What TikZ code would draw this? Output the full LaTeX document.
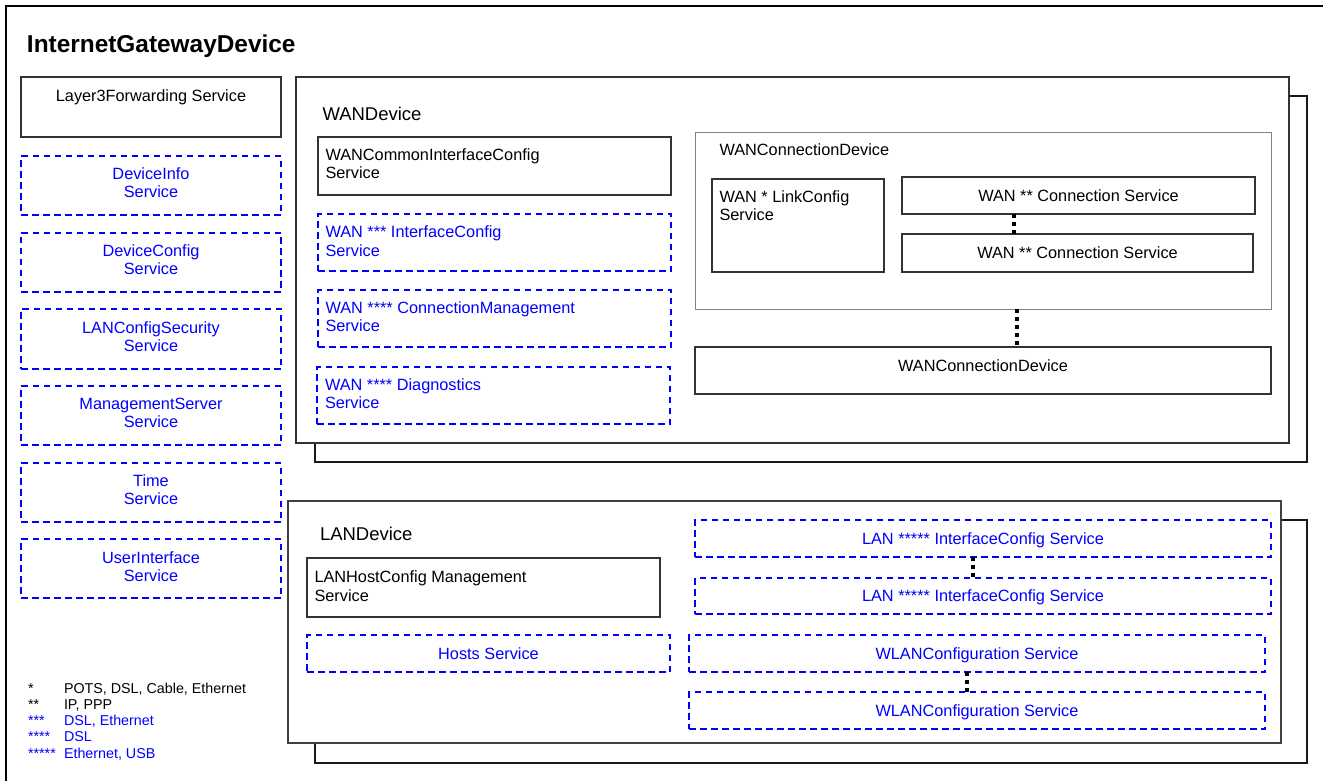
\documentclass[tikz,border=0pt]{standalone}
\usepackage{fontspec}
\setmainfont{Liberation Sans}

\begin{document}
\begin{tikzpicture}[x=1pt, y=-1pt,
    every node/.style={inner sep=0pt, outer sep=0pt},
    txt/.style={font=\fontsize{16.3}{18.3}\selectfont, text=black},
    bluetxt/.style={font=\fontsize{16.3}{18.3}\selectfont, text=blue},
    one/.style={text height=11.6pt, text depth=0pt},
    grouptxt/.style={font=\fontsize{18.5}{20}\selectfont, anchor=west, text height=13.2pt, text depth=0pt},
    legendtxt/.style={font=\fontsize{14.3}{16}\selectfont, anchor=base west},
    solidbox/.style={draw=black!80, line width=1.2pt, anchor=north west, font=\fontsize{16.3}{18.3}\selectfont},
    dashbox/.style={draw=blue, line width=2pt, dash pattern=on 6.5pt off 4.5pt, anchor=north west, text=blue, font=\fontsize{16.3}{18.3}\selectfont},
    backbox/.style={draw=black!90, line width=1.2pt},
    frontbox/.style={draw=black!80, line width=1.2pt, fill=white},
    dotline/.style={line width=4pt, dash pattern=on 4pt off 4pt}
  ]
    \useasboundingbox (0,0) rectangle (1323,780);

    % 外枠
    \draw[line width=2pt] (6,790) -- (6,6) -- (1330,6);
    \node[anchor=west, font=\fontsize{24.4}{28}\selectfont\bfseries, text height=17.5pt, text depth=0pt] (igd) at (27,44.2) {InternetGatewayDevice};

    % 左の列
    \node[solidbox, minimum width=260pt, minimum height=60pt] (l3fwd) at (21,77) {};
    \node[txt, one] (l3fwdtxt) at (151,95.5) {Layer3Forwarding Service};

    \node[dashbox, minimum width=260pt, minimum height=59pt] (devinfo) at (21,156) {};
    \node[bluetxt, align=center] (devinfotxt) at (151,183) {DeviceInfo\\Service};

    \node[dashbox, minimum width=260pt, minimum height=59pt] (devconfig) at (21,232.5) {};
    \node[bluetxt, align=center] (devconfigtxt) at (151,260) {DeviceConfig\\Service};

    \node[dashbox, minimum width=260pt, minimum height=60pt] (lancfgsec) at (21,309) {};
    \node[bluetxt, align=center] (lancfgsectxt) at (151,337) {LANConfigSecurity\\Service};

    \node[dashbox, minimum width=260pt, minimum height=59pt] (mgmtsrv) at (21,386) {};
    \node[bluetxt, align=center] (mgmtsrvtxt) at (151,413) {ManagementServer\\Service};

    \node[dashbox, minimum width=260pt, minimum height=59pt] (time) at (21,463) {};
    \node[bluetxt, align=center] (timetxt) at (151,489.5) {Time\\Service};

    \node[dashbox, minimum width=260pt, minimum height=59pt] (userif) at (21,539) {};
    \node[bluetxt, align=center] (useriftxt) at (151,566.4) {UserInterface\\Service};

    % WANDevice
    \draw[backbox] (315,96) rectangle (1307,462);
    \draw[frontbox] (296,77) rectangle (1289,443);
    \node[grouptxt] (wandevtxt) at (322.5,113.7) {WANDevice};

    \node[solidbox, minimum width=353pt, minimum height=58pt] (wancommon) at (318,137) {};
    \node[txt, anchor=west, align=left] (wancommontxt) at (325.5,163.8) {WANCommonInterfaceConfig\\Service};

    \node[dashbox, minimum width=353pt, minimum height=57pt] (wanif) at (318,214) {};
    \node[bluetxt, anchor=west, align=left] (waniftxt) at (325.5,241.2) {WAN *** InterfaceConfig\\Service};

    \node[dashbox, minimum width=353pt, minimum height=57pt] (wanconnmgmt) at (318,290) {};
    \node[bluetxt, anchor=west, align=left] (wanconnmgmttxt) at (325.5,317) {WAN **** ConnectionManagement\\Service};

    \node[dashbox, minimum width=353pt, minimum height=57pt] (wandiag) at (317,367) {};
    \node[bluetxt, anchor=west, align=left] (wandiagtxt) at (325,394) {WAN **** Diagnostics\\Service};

    % WANConnectionDevice
    \node[draw=black!50, line width=1pt, anchor=north west, minimum width=576pt, minimum height=177pt] (wcdgroup) at (695,132) {};
    \node[txt, one, anchor=west] (wcdgrouptxt) at (719.5,150) {WANConnectionDevice};

    \node[solidbox, minimum width=172pt, minimum height=93pt] (linkcfg) at (712,179) {};
    \node[txt, anchor=west, align=left] (linkcfgtxt) at (719.5,206) {WAN * LinkConfig\\Service};

    \node[solidbox, one, minimum width=353pt, minimum height=37pt] (wanconn1) at (902,177) {WAN ** Connection Service};
    \node[solidbox, one, minimum width=351pt, minimum height=38pt] (wanconn2) at (902,234) {WAN ** Connection Service};
    \draw[dotline] ([xshift=-65pt]wanconn1.south) -- ([xshift=-64pt]wanconn2.north);

    \node[solidbox, minimum width=576pt, minimum height=47pt] (wcdbox) at (695,347) {};
    \node[txt, one] (wcdboxtxt) at (983,366) {WANConnectionDevice};
    \draw[dotline] ([xshift=34pt]wcdgroup.south) -- ([xshift=34pt]wcdbox.north);

    % LANDevice
    \draw[backbox] (315,520) rectangle (1307,763);
    \draw[frontbox, line width=1.8pt, draw=black!75] (288,501) rectangle (1281,743);
    \node[grouptxt] (landevtxt) at (320,534) {LANDevice};

    \node[solidbox, minimum width=353pt, minimum height=59pt] (lanhost) at (307,558) {};
    \node[txt, anchor=west, align=left] (lanhosttxt) at (314.5,586.2) {LANHostConfig Management\\Service};

    \node[dashbox, one, minimum width=363pt, minimum height=37pt] (hosts) at (307,635) {Hosts Service};

    \node[dashbox, one, minimum width=576pt, minimum height=37pt] (lanif1) at (695,520) {LAN ***** InterfaceConfig Service};
    \node[dashbox, one, minimum width=576pt, minimum height=36pt] (lanif2) at (695,578) {LAN ***** InterfaceConfig Service};
    \draw[dotline] ([xshift=-10pt]lanif1.south) -- ([xshift=-10pt]lanif2.north);

    \node[dashbox, one, minimum width=576pt, minimum height=37pt] (wlan1) at (689,635) {WLANConfiguration Service};
    \node[dashbox, one, minimum width=576pt, minimum height=37pt] (wlan2) at (689,692) {WLANConfiguration Service};
    \draw[dotline] ([xshift=-10pt]wlan1.south) -- ([xshift=-10pt]wlan2.north);

    % 凡例
    \node[legendtxt] (star1) at (28,693) {*};
    \node[legendtxt] (star1txt) at (64,693) {POTS, DSL, Cable, Ethernet};
    \node[legendtxt] (star2) at (28,709.3) {**};
    \node[legendtxt] (star2txt) at (64,709.3) {IP, PPP};
    \node[legendtxt, text=blue] (star3) at (28,725.6) {***};
    \node[legendtxt, text=blue] (star3txt) at (64,725.6) {DSL, Ethernet};
    \node[legendtxt, text=blue] (star4) at (28,741.9) {****};
    \node[legendtxt, text=blue] (star4txt) at (64,741.9) {DSL};
    \node[legendtxt, text=blue] (star5) at (28,758.2) {*****};
    \node[legendtxt, text=blue] (star5txt) at (64,758.2) {Ethernet, USB};
\end{tikzpicture}
\end{document}
